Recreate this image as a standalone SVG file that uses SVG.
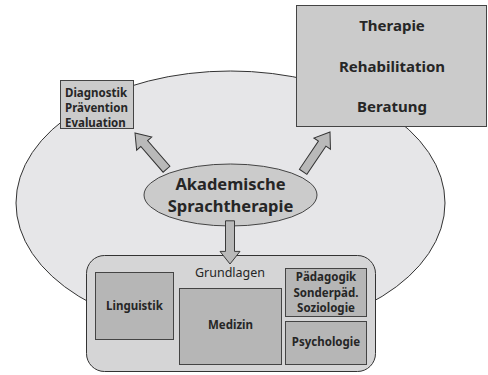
<svg xmlns="http://www.w3.org/2000/svg" width="488" height="375" viewBox="0 0 488 375">
<defs>
<style>
.bg{fill:#e6e6e8;stroke:#333;stroke-width:1}
.box{fill:#cbcbcb;stroke:#444;stroke-width:1}
.inner{fill:#b6b6b6;stroke:#444;stroke-width:1}
.grund{fill:#d5d5d6;stroke:#333;stroke-width:1}
.arrow{fill:#b9b9b9;stroke:#333;stroke-width:1;stroke-linejoin:miter}
text{font-family:"Noto Sans","Open Sans","DejaVu Sans",sans-serif;fill:#262626}
.b{font-weight:bold}
.s{font-size:11.5px}
.m{font-size:15px}
.l{font-size:16.5px}
</style>
<path id="arr" d="M0,0 L10,14 L4.5,14 L4.5,48 L-4.5,48 L-4.5,14 L-10,14 Z"/>
</defs>
<g id="bg-ellipse"><ellipse class="bg" cx="230.5" cy="203" rx="214.5" ry="132"/></g>
<g id="connectors">
<use href="#arr" class="arrow" transform="translate(135,133) rotate(-41)"/>
<use href="#arr" class="arrow" transform="translate(330,132) rotate(34)"/>
</g>
<g id="diagnostik">
<rect class="box" x="60.5" y="80.5" width="73" height="48"/>
<text class="b s" x="65" y="97">Diagnostik</text>
<text class="b s" x="65" y="112">Prävention</text>
<text class="b s" x="65" y="127">Evaluation</text>
</g>
<g id="therapie">
<rect class="box" x="296.5" y="5.5" width="190" height="121"/>
<text class="b m" x="392" y="31" text-anchor="middle">Therapie</text>
<text class="b m" x="392" y="72" text-anchor="middle">Rehabilitation</text>
<text class="b m" x="392" y="112" text-anchor="middle">Beratung</text>
</g>
<g id="akademische">
<ellipse class="box" cx="230.5" cy="195" rx="86.5" ry="31"/>
<text class="b l" x="230.5" y="190" text-anchor="middle">Akademische</text>
<text class="b l" x="230.5" y="212" text-anchor="middle">Sprachtherapie</text>
</g>
<g id="grundlagen">
<rect class="grund" x="86.5" y="255.5" width="289" height="116" rx="18"/>
<text x="230" y="277" text-anchor="middle" font-size="12.5">Grundlagen</text>
</g>
<g id="connector-down">
<use href="#arr" class="arrow" transform="translate(230,264) rotate(180) scale(1,0.9)"/>
</g>
<g id="linguistik">
<rect class="inner" x="95.5" y="272.5" width="78" height="67"/>
<text class="b s" x="134.5" y="310" text-anchor="middle">Linguistik</text>
</g>
<g id="medizin">
<rect class="inner" x="179.5" y="288.5" width="102" height="76"/>
<text class="b s" x="230.5" y="329" text-anchor="middle">Medizin</text>
</g>
<g id="paedagogik">
<rect class="inner" x="285.5" y="268.5" width="81" height="48"/>
<text class="b s" x="326" y="281" text-anchor="middle">Pädagogik</text>
<text class="b s" x="326" y="297" text-anchor="middle">Sonderpäd.</text>
<text class="b s" x="326" y="312" text-anchor="middle">Soziologie</text>
</g>
<g id="psychologie">
<rect class="inner" x="285.5" y="321.5" width="81" height="43"/>
<text class="b s" x="326" y="346" text-anchor="middle">Psychologie</text>
</g>
</svg>
